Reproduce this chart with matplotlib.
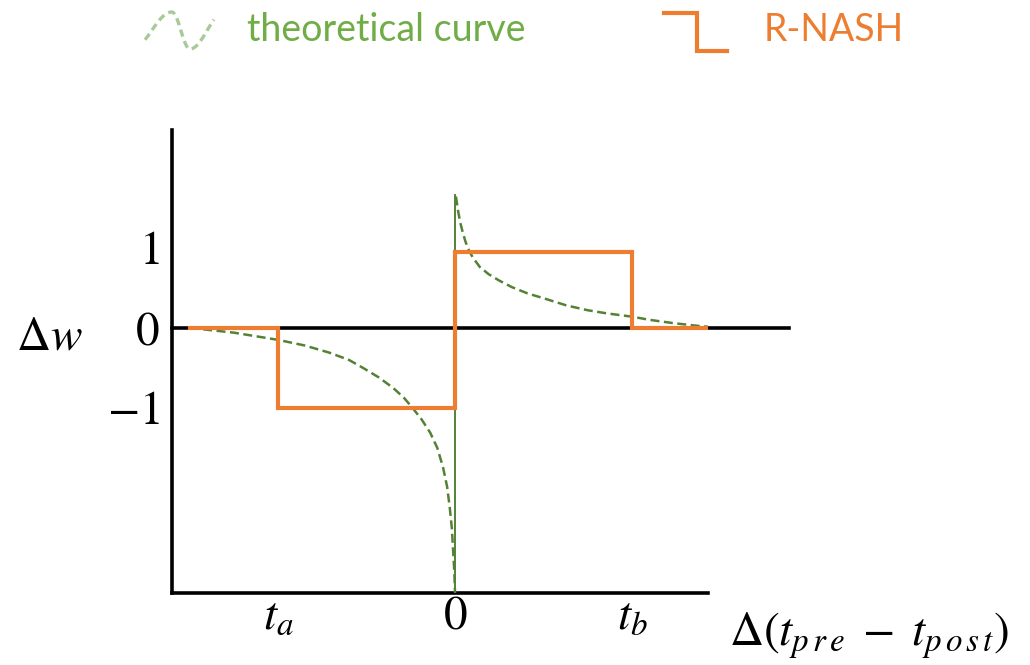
import numpy as np
import matplotlib
matplotlib.use('Agg')
import matplotlib.pyplot as plt
from matplotlib.lines import Line2D

plt.rcParams['mathtext.fontset'] = 'stix'
plt.rcParams['font.family'] = ['STIXGeneral', 'DejaVu Serif']

# ---- data ----
step_x = [-1.5, -1.0, -1.0, 0.0, 0.0, 1.0, 1.0, 1.5]
step_y = [0.0, 0.0, -1.0, -1.0, 0.95, 0.95, 0.0, 0.0]

curve_left_x = [-1.5, -1.25, -1.0, -0.85, -0.71, -0.6, -0.52, -0.43, -0.35, -0.29,
                -0.24, -0.19, -0.14, -0.1, -0.068, -0.045, -0.03, -0.018, -0.01, -0.004, 0.0]
curve_left_y = [0.0, -0.06, -0.15, -0.22, -0.31, -0.40, -0.50, -0.62, -0.75, -0.87,
                -1.0, -1.14, -1.31, -1.5, -1.74, -1.98, -2.24, -2.5, -2.81, -3.05, -3.31]
curve_right_x = [0.005, 0.018, 0.03, 0.045, 0.06, 0.08, 0.1, 0.14, 0.19, 0.25, 0.32, 0.41,
                 0.5, 0.63, 0.75, 0.86, 1.0, 1.1, 1.23, 1.35, 1.5]
curve_right_y = [1.64, 1.45, 1.31, 1.18, 1.07, 0.96, 0.88, 0.76, 0.67, 0.59, 0.51, 0.43,
                 0.37, 0.28, 0.22, 0.18, 0.14, 0.10, 0.06, 0.03, 0.0]
vline_top = 1.66

x_ticks = [-1.0, 0.0, 1.0]
x_ticklabels = ['$t_a$', '$0$', '$t_b$']
y_ticks = [1.0, 0.0, -1.0]
y_ticklabels = ['$1$', '$0$', '$-1$']

GREEN_DARK = '#548235'
GREEN_TXT = '#70AD47'
GREEN_ICON = '#A9C99A'
ORANGE = '#ED7D31'
W, H = 1030, 665

fig = plt.figure(figsize=(W / 100, H / 100), dpi=100)
ax = fig.add_axes([172/W, 1 - 593/H, (708-172)/W, (593-130)/H])
ax.set_xlim(-1.6, 1.43)
ax.set_ylim(-3.31, 2.47)

for s in ['top', 'right']:
    ax.spines[s].set_visible(False)
for s in ['left', 'bottom']:
    ax.spines[s].set_linewidth(2.6)
    ax.spines[s].set_color('black')

# zero line extending beyond the axes
ax.plot([-1.6, 1.89], [0, 0], color='black', lw=2.6, clip_on=False, zorder=2)

# theoretical curve
ax.plot([0, 0], [-3.31, vline_top], color=GREEN_DARK, lw=1.4, zorder=3)
ax.plot(curve_left_x, curve_left_y, color=GREEN_DARK, lw=1.8, ls=(0, (3.6, 1.8)), zorder=3)
ax.plot(curve_right_x, curve_right_y, color=GREEN_DARK, lw=1.8, ls=(0, (3.6, 1.8)), zorder=3)

# R-NASH step
ax.plot(step_x, step_y, color=ORANGE, lw=3.0, zorder=4, solid_joinstyle='miter')

ax.set_xticks(x_ticks)
ax.set_xticklabels(x_ticklabels, fontsize=34)
ax.set_yticks(y_ticks)
ax.set_yticklabels(y_ticklabels, fontsize=34)
ax.tick_params(axis='both', length=0)
ax.tick_params(axis='y', pad=9)
ax.tick_params(axis='x', pad=2)

fig.text(49/W, 1 - 338/H, r'$\Delta w$', fontsize=34, ha='center', va='center')
fig.text(729/W, 1 - 636/H, r'$\Delta(t_{p\,r\,e}\;-\;t_{p\,o\,s\,t})$', fontsize=34,
         ha='left', va='center')

# ---- legend (manual) ----
tt = np.linspace(0, 1, 80)
theta = np.interp(tt, [0, 0.39, 0.65, 1.0],
                  [-np.pi / 6, np.pi / 2, 1.5 * np.pi, 2 * np.pi + np.pi / 5])
icon_x = (145 + 69 * tt) / W
icon_y = 1 - (30.5 - 18.5 * np.sin(theta)) / H
fig.add_artist(Line2D(icon_x, icon_y, color=GREEN_ICON, lw=2.4, ls=(0, (2.2, 1.4))))
fig.text(247/W, 1 - 30/H, 'theoretical curve', color=GREEN_TXT, fontsize=27,
         family=['Lato', 'DejaVu Sans'], fontweight='normal', ha='left', va='center')

sx = np.array([664, 697, 697, 727]) / W
sy = 1 - np.array([13, 13, 51, 51]) / H
fig.add_artist(Line2D(sx, sy, color=ORANGE, lw=3.0, solid_joinstyle='miter'))
fig.text(764/W, 1 - 30/H, 'R-NASH', color=ORANGE, fontsize=27,
         family=['Lato', 'DejaVu Sans'], fontweight='normal', ha='left', va='center')

fig.savefig('out.png', dpi=100)
